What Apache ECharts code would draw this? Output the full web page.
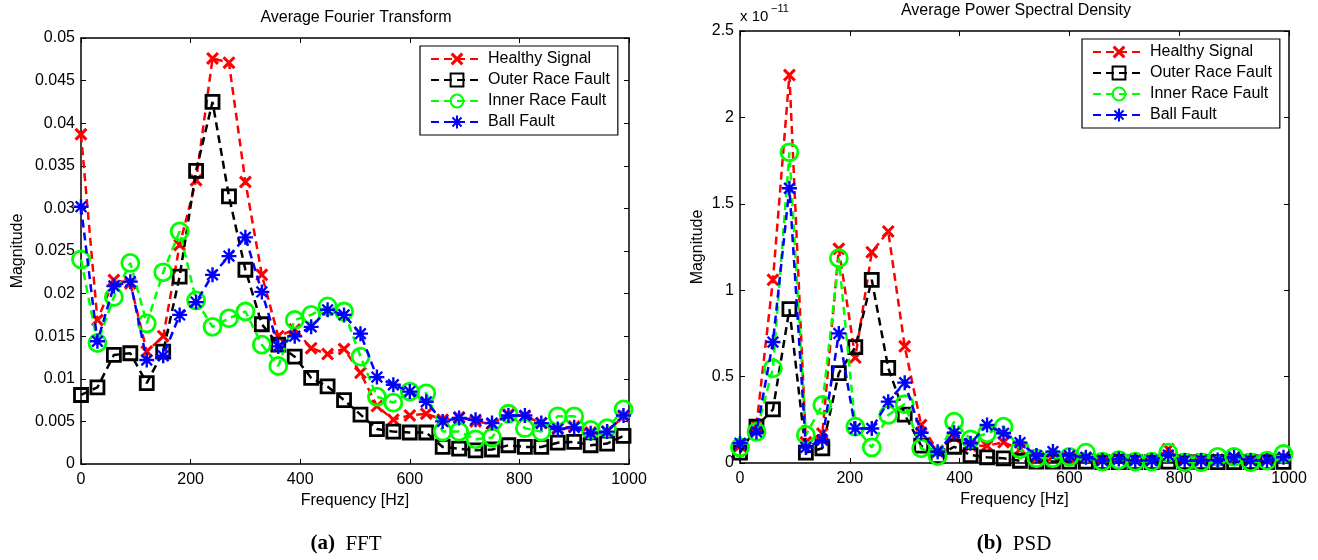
<!DOCTYPE html>
<html>
<head>
<meta charset="utf-8">
<script src="https://cdn.jsdelivr.net/npm/echarts@6/dist/echarts.min.js"></script>
<style>
html,body{margin:0;padding:0;background:#fff;}
#chart{width:1318px;height:560px;}
</style>
</head>
<body>
<div id="chart"></div>
<script>
// ---------- data ----------
var freq = [0,30,60,90,120,150,180,210,240,270,300,330,360,390,420,450,480,510,540,570,600,630,660,690,720,750,780,810,840,870,900,930,960,990];
var seriesNames = ['Healthy Signal','Outer Race Fault','Inner Race Fault','Ball Fault'];

// FFT magnitude
var fftHealthy = [0.0387,0.0169,0.0216,0.0212,0.0132,0.0150,0.0257,0.0333,0.0476,0.0471,0.0331,0.0222,0.0150,0.0158,0.0136,0.0129,0.0135,0.0107,0.0068,0.0052,0.0057,0.0059,0.0052,0.0055,0.0050,0.0047,0.0058,0.0056,0.0048,0.0042,0.0044,0.0037,0.0038,0.0056];
var fftOuter   = [0.0081,0.0090,0.0128,0.0130,0.0095,0.0132,0.0220,0.0344,0.0425,0.0314,0.0228,0.0164,0.0140,0.0126,0.0101,0.0091,0.0075,0.0058,0.0041,0.0038,0.0037,0.0037,0.0020,0.0018,0.0016,0.0017,0.0022,0.0020,0.0020,0.0025,0.0026,0.0022,0.0024,0.0033];
var fftInner   = [0.0240,0.0142,0.0196,0.0236,0.0165,0.0225,0.0273,0.0192,0.0161,0.0171,0.0179,0.0140,0.0115,0.0169,0.0175,0.0185,0.0179,0.0126,0.0079,0.0072,0.0085,0.0083,0.0038,0.0038,0.0029,0.0031,0.0059,0.0042,0.0038,0.0056,0.0056,0.0040,0.0042,0.0064];
var fftBall    = [0.0302,0.0144,0.0209,0.0214,0.0122,0.0127,0.0175,0.0190,0.0222,0.0244,0.0266,0.0202,0.0138,0.0150,0.0161,0.0181,0.0175,0.0153,0.0102,0.0093,0.0085,0.0073,0.0050,0.0054,0.0052,0.0048,0.0057,0.0057,0.0048,0.0041,0.0043,0.0036,0.0038,0.0057];

// PSD magnitude, in units of 1e-11
var psdHealthy = [0.10,0.22,1.06,2.245,0.12,0.17,1.24,0.61,1.22,1.34,0.675,0.22,0.07,0.15,0.10,0.10,0.12,0.08,0.03,0.04,0.03,0.03,0.02,0.03,0.02,0.02,0.08,0.02,0.02,0.02,0.03,0.02,0.02,0.03];
var psdOuter   = [0.06,0.21,0.31,0.89,0.06,0.085,0.52,0.67,1.06,0.55,0.28,0.10,0.04,0.094,0.046,0.033,0.027,0.013,0.008,0.008,0.008,0.008,0.005,0.005,0.005,0.005,0.008,0.005,0.005,0.005,0.005,0.005,0.005,0.006];
var psdInner   = [0.09,0.18,0.548,1.798,0.162,0.336,1.185,0.21,0.09,0.278,0.341,0.085,0.04,0.239,0.137,0.172,0.21,0.079,0.027,0.027,0.036,0.06,0.008,0.017,0.008,0.008,0.06,0.004,0.004,0.036,0.036,0.004,0.014,0.052];
var psdBall    = [0.114,0.18,0.70,1.59,0.09,0.133,0.75,0.20,0.20,0.355,0.465,0.175,0.065,0.175,0.114,0.22,0.172,0.118,0.043,0.066,0.043,0.033,0.014,0.023,0.014,0.014,0.046,0.014,0.014,0.017,0.033,0.014,0.014,0.033];

var fftYTicks = [0,0.005,0.01,0.015,0.02,0.025,0.03,0.035,0.04,0.045,0.05];
var psdYTicks = [0,0.5,1,1.5,2,2.5];
var xTicks = [0,200,400,600,800,1000];

// ---------- styles ----------
var FONT = '"Liberation Sans", Arial, sans-serif';
var SERIF = '"Liberation Serif", "Times New Roman", serif';
var xPath = 'path://M18 2L98 82L82 98L2 18ZM82 2L98 18L18 98L2 82Z';
var starPath = 'path://M0 42L100 42L100 58L0 58ZM42 0L58 0L58 100L42 100ZM20 9L91 80L80 91L9 20ZM80 9L91 20L20 91L9 80Z';
var styles = [
  {color:'#ff0000', symbol:xPath, size:13, hollow:false},
  {color:'#000000', symbol:'rect', size:13, hollow:true},
  {color:'#00ff00', symbol:'circle', size:17, hollow:true},
  {color:'#0000ff', symbol:starPath, size:15, hollow:false}
];

function pairs(xs, ys){ return xs.map(function(x,i){ return [x, ys[i]]; }); }

function makeSeries(data, idx, axisIdx){
  var s = styles[idx];
  return {
    type:'line', name:seriesNames[idx],
    xAxisIndex:axisIdx, yAxisIndex:axisIdx,
    data:data,
    symbol:s.symbol, symbolSize:s.size, showAllSymbol:true,
    lineStyle:{color:s.color, width:2.5, type:[8,5]},
    itemStyle: s.hollow ? {color:'rgba(255,255,255,0)', borderColor:s.color, borderWidth:2.8}
                        : {color:s.color, borderWidth:0},
    emphasis:{disabled:true},
    z: 2 + idx
  };
}

function xAx(grid, pos, labels, name){
  return {
    type:'value', gridIndex:grid, position:pos, min:0, max:1000, interval:200,
    axisLine:{show:true, onZero:false, lineStyle:{color:'#000', width:1.5}},
    axisTick:{show:true, inside:true, length:5, lineStyle:{color:'#000', width:1}},
    axisLabel:{show:labels, color:'#000', fontSize:16, fontFamily:FONT, margin:8,
      formatter:function(v){ return String(v); }},
    splitLine:{show:false},
    name: name || '', nameLocation:'middle', nameGap:28,
    nameTextStyle:{color:'#000', fontSize:16, fontFamily:FONT}
  };
}
function yAx(grid, pos, labels, max, interval, name, gap){
  return {
    type:'value', gridIndex:grid, position:pos, min:0, max:max, interval:interval,
    axisLine:{show:true, onZero:false, lineStyle:{color:'#000', width:1.5}},
    axisTick:{show:true, inside:true, length:5, lineStyle:{color:'#000', width:1}},
    axisLabel:{show:labels, color:'#000', fontSize:16, fontFamily:FONT, margin:6,
      formatter:function(v){ return String(+v.toFixed(4)); }},
    splitLine:{show:false},
    name: name || '', nameLocation:'middle', nameGap:gap || 40, nameRotate:90,
    nameTextStyle:{color:'#000', fontSize:16, fontFamily:FONT}
  };
}

function legendAt(left, top){
  return {
    left:left, top:top, orient:'vertical',
    data:seriesNames,
    itemWidth:52, itemHeight:16, itemGap:5,
    padding:[5,8,5,10],
    borderColor:'#000', borderWidth:1.2, backgroundColor:'#fff',
    textStyle:{color:'#000', fontSize:16, fontFamily:FONT},
    selectedMode:false
  };
}

var series = [];
[fftHealthy,fftOuter,fftInner,fftBall].forEach(function(d,i){ series.push(makeSeries(pairs(freq,d), i, 0)); });
[psdHealthy,psdOuter,psdInner,psdBall].forEach(function(d,i){ series.push(makeSeries(pairs(freq,d), i, 2)); });

var option = {
  animation:false,
  backgroundColor:'#fff',
  grid:[
    {left:81, top:38, width:548, height:426},
    {left:740, top:31, width:549, height:432}
  ],
  xAxis:[
    xAx(0,'bottom',true,'Frequency [Hz]'),
    xAx(0,'top',false),
    xAx(1,'bottom',true,'Frequency [Hz]'),
    xAx(1,'top',false)
  ],
  yAxis:[
    yAx(0,'left',true,0.05,0.005,'Magnitude',55),
    yAx(0,'right',false,0.05,0.005),
    yAx(1,'left',true,2.5,0.5,'Magnitude',34),
    yAx(1,'right',false,2.5,0.5)
  ],
  legend:[legendAt(420,46), legendAt(1082,39)],
  series:series,
  graphic:[
    {type:'text', x:356, y:18, style:{text:'Average Fourier Transform', fill:'#000', font:'16px '+FONT, textAlign:'center', textVerticalAlign:'middle'}},
    {type:'text', x:1016, y:11, style:{text:'Average Power Spectral Density', fill:'#000', font:'16px '+FONT, textAlign:'center', textVerticalAlign:'middle'}},
    {type:'text', x:740, y:17, style:{text:'x 10', fill:'#000', font:'15px '+FONT, textAlign:'left', textVerticalAlign:'middle'}},
    {type:'text', x:771, y:9, style:{text:'\u221211', fill:'#000', font:'11px '+FONT, textAlign:'left', textVerticalAlign:'middle'}},
    {type:'text', x:346, y:544, style:{
      rich:{b:{font:'bold 21px '+SERIF, fill:'#000'}, n:{font:'21px '+SERIF, fill:'#000'}},
      text:'{b|(a)}{n|  FFT}', textAlign:'center', textVerticalAlign:'middle'}},
    {type:'text', x:1014, y:544, style:{
      rich:{b:{font:'bold 21px '+SERIF, fill:'#000'}, n:{font:'21px '+SERIF, fill:'#000'}},
      text:'{b|(b)}{n|  PSD}', textAlign:'center', textVerticalAlign:'middle'}}
  ]
};

var chart = echarts.init(document.getElementById('chart'), null, {renderer:'canvas'});
chart.setOption(option);
</script>
</body>
</html>
